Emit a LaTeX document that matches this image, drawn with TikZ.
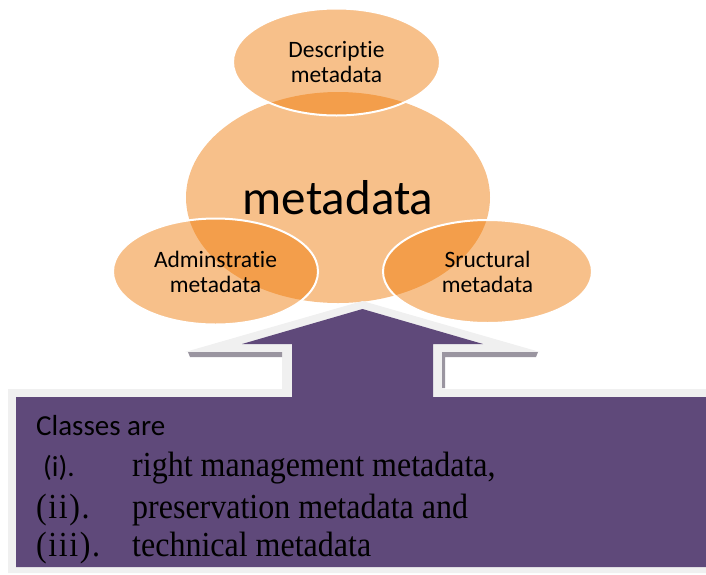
\documentclass[tikz,border=0pt]{standalone}
\usepackage{graphicx}
\usepackage{fontspec}
\setmainfont{Carlito}[Ligatures={NoCommon,NoContextual}]
\newfontfamily\timesfont{Liberation Serif}
\newfontfamily\timeslabel{Liberation Serif}[LetterSpace=5]
\usetikzlibrary{shapes.geometric}

\definecolor{orangefill}{RGB}{238,118,0}
\definecolor{boxpurple}{HTML}{5F497A}
\definecolor{bevelgrey}{HTML}{F0F0F0}
\definecolor{shadowgrey}{HTML}{9A95A0}

\tikzset{
  bubble/.style={ellipse, fill=orangefill, fill opacity=0.46, text opacity=1,
    draw=white, line width=2pt, inner sep=0pt, align=center, text=black,
    font=\fontsize{23.5}{25}\selectfont},
  corebubble/.style={ellipse, fill=orangefill, fill opacity=0.46, text opacity=1,
    inner sep=0pt, text=black, font=\fontsize{49}{55}\selectfont},
  sansline/.style={anchor=base west, inner sep=0pt, text=black,
    font=\fontsize{29}{31}\selectfont},
  serifline/.style={anchor=base west, inner sep=0pt, text=black,
    font=\timesfont\fontsize{32}{36}\selectfont},
  seriflabel/.style={anchor=base west, inner sep=0pt, text=black,
    font=\timeslabel\fontsize{32}{36}\selectfont}
}
\newcommand{\tallline}[1]{\scalebox{1}[1.1]{#1}}

\begin{document}
\begin{tikzpicture}[x=1pt, y=-1pt]
\useasboundingbox (0,0) rectangle (706,574);

% central bubble and its three satellites
\node[corebubble, minimum width=304pt, minimum height=211pt] (core) at (338,197.5) {metadata};
\node[bubble, minimum width=207pt, minimum height=107pt] (desc) at (336.5,62) {Descriptie\\metadata};
\node[bubble, minimum width=205pt, minimum height=106pt] (admin) at (215.5,271.5) {Adminstratie\\metadata};
\node[bubble, minimum width=209pt, minimum height=103pt] (struct) at (487.5,271.5) {Sructural\\metadata};

% up-arrow callout: bevel frame, inner shadows, purple body
\fill[bevelgrey] (8,389) -- (282,389) -- (282,352) -- (185,352) -- (362.5,301)
  -- (540,352) -- (442,352) -- (442,389) -- (706,389) -- (706,573) -- (8,573) -- cycle;
\fill[shadowgrey] (188,352) -- (282,352) -- (282,357) -- (190,357) -- cycle;
\fill[shadowgrey] (442,352) -- (538,352) -- (536,357) -- (445,357) -- (445,388) -- (442,388) -- cycle;
\fill[boxpurple] (16,397) -- (292,397) -- (292,344) -- (242,344) -- (362.5,309)
  -- (483,344) -- (433,344) -- (433,397) -- (706,397) -- (706,567) -- (16,567) -- cycle;

% list of classes
\node[sansline] (heading) at (36,435) {Classes are};
\node[sansline] (labeli) at (43,476) {(i).};
\node[serifline] (itemi) at (132,476) {\tallline{right management metadata,}};
\node[seriflabel] (labelii) at (36,518) {\tallline{(ii).}};
\node[serifline] (itemii) at (132,518) {\tallline{preservation metadata and}};
\node[seriflabel] (labeliii) at (36,556) {\tallline{(iii).}};
\node[serifline] (itemiii) at (132,556) {\tallline{technical metadata}};
\end{tikzpicture}
\end{document}
